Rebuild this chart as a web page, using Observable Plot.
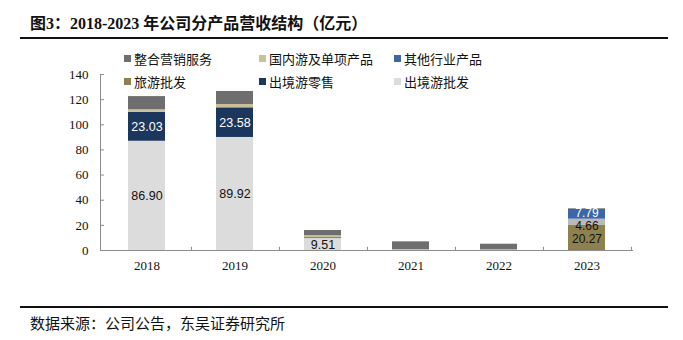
<!DOCTYPE html>
<html>
<head>
<meta charset="utf-8">
<script src="https://cdn.jsdelivr.net/npm/d3@7"></script>
<script src="https://cdn.jsdelivr.net/npm/@observablehq/plot@0.6"></script>
<style>
  html, body { margin: 0; padding: 0; background: #fff; }
  #wrap { position: relative; width: 683px; height: 340px; overflow: hidden; }
  #chart { position: absolute; left: 0; top: 0; }
  .title { position: absolute; left: 30px; top: 10px; font: bold 16px "Liberation Serif", "Noto Sans CJK SC", serif; color: #111; white-space: nowrap; }
  .hline { position: absolute; left: 20px; width: 648px; height: 2px; background: #111; }
  .source { position: absolute; left: 30px; top: 312px; font: 15px "Noto Sans CJK SC", sans-serif; color: #111; white-space: nowrap; }
  .leg { position: absolute; font: 13px "Noto Sans CJK SC", sans-serif; color: #111; white-space: nowrap; display: flex; align-items: center; }
  .leg i { display: inline-block; width: 7px; height: 7px; margin-right: 3px; }
</style>
</head>
<body>
<div id="wrap">
  <div id="chart"></div>
</div>
<script>
// ---- data ----
const years = ["2018", "2019", "2020", "2021", "2022", "2023"];
const seriesNames = ["出境游批发", "出境游零售", "旅游批发", "旅游零售", "其他行业产品", "国内游及单项产品", "整合营销服务"];
const seriesColors = ["#dcdcdc", "#1c375e", "#8d8150", "#b9b9b9", "#3a67a8", "#cbc197", "#6e6e6e"];
const outboundWholesale = [86.90, 89.92, 9.51, 0, 0, 0];
const outboundRetail    = [23.03, 23.58, 0.6, 0, 0, 0];
const travelWholesale   = [0, 0, 0, 0, 0, 20.27];
const travelRetail      = [0, 0, 0, 0, 0, 4.66];
const otherIndustry     = [0, 0, 0, 0, 0, 7.79];
const domesticProducts  = [2.0, 2.6, 1.6, 0.8, 0.6, 0];
const integratedMarketing = [10.5, 10.4, 4.2, 6.1, 4.4, 0.5];
// which values carry a data label
const labelledValues = {
  "出境游批发": ["2018", "2019", "2020"],
  "出境游零售": ["2018", "2019"],
  "旅游批发": ["2023"],
  "旅游零售": ["2023"],
  "其他行业产品": ["2023"]
};
const whiteLabelSeries = ["出境游零售", "其他行业产品"];
const yTicks = [0, 20, 40, 60, 80, 100, 120, 140];
const legendRows = [
  ["整合营销服务", "国内游及单项产品", "其他行业产品"],
  ["旅游批发", "出境游零售", "出境游批发"]
];

const seriesValues = [outboundWholesale, outboundRetail, travelWholesale, travelRetail, otherIndustry, domesticProducts, integratedMarketing];
const rows = [];
seriesNames.forEach((s, si) => {
  years.forEach((y, yi) => {
    const v = seriesValues[si][yi];
    const lab = (labelledValues[s] || []).includes(y) ? v.toFixed(2) : null;
    rows.push({year: y, series: s, value: v, label: lab});
  });
});

// ---- layout ----
const W = 683, H = 340, ML = 100, MR = 50, MT = 74, MB = 90;
const step = (W - ML - MR) / years.length;
const font = '"Liberation Serif", "Times New Roman", serif';
const labelFont = '"Liberation Sans", Arial, sans-serif';

function labels(filterFn, dy, size) {
  return Plot.text(rows, Plot.stackY({
    x: "year", y: "value", z: "series", order: seriesNames,
    text: d => (d.label && filterFn(d)) ? d.label : null,
    fill: d => whiteLabelSeries.includes(d.series) ? "#fff" : "#111",
    fontFamily: labelFont, fontSize: size, dy
  }));
}

const plot = Plot.plot({
  width: W, height: H,
  marginLeft: ML, marginRight: MR, marginTop: MT, marginBottom: MB,
  style: {fontFamily: font, fontSize: "13px", color: "#111", background: "transparent"},
  x: {domain: years, paddingInner: 0.58, paddingOuter: 0.29, label: null},
  y: {domain: [0, 140], label: null},
  color: {domain: seriesNames, range: seriesColors},
  marks: [
    Plot.barY(rows, Plot.stackY({x: "year", y: "value", z: "series", fill: "series", order: seriesNames})),
    labels(d => d.series !== "旅游零售" && d.series !== "其他行业产品" && d.series !== "旅游批发", 0, 12.5),
    labels(d => d.series === "旅游批发", 1, 12),
    labels(d => d.series === "旅游零售", 4, 12),
    labels(d => d.series === "其他行业产品", -1.5, 12),
    Plot.ruleY([0], {stroke: "#8c8c8c"}),
    Plot.frame({anchor: "left", stroke: "#8c8c8c"}),
    Plot.ruleX(years, {x: d => d, y1: 0, y2: 2.6, dx: step / 2, stroke: "#8c8c8c"}),
    Plot.axisY({ticks: yTicks, tickSize: -4, tickPadding: 16, stroke: "#8c8c8c", fontSize: 13}),
    Plot.axisX({tickSize: 0, tickPadding: 10, fontSize: 13})
  ]
});
document.getElementById("chart").appendChild(plot);

// ---- html overlays: title, rules, legend, source ----
const wrap = document.getElementById("wrap");
function add(cls, html, styles) {
  const el = document.createElement("div");
  el.className = cls;
  if (html) el.innerHTML = html;
  Object.assign(el.style, styles || {});
  wrap.appendChild(el);
  return el;
}
add("title", "图3：2018-2023 年公司分产品营收结构（亿元）");
add("hline", "", {top: "37px"});
add("hline", "", {top: "306px"});
add("source", "数据来源：公司公告，东吴证券研究所");
const legX = [124, 259, 394];
const legY = [49, 72];
legendRows.forEach((row, ri) => {
  row.forEach((name, ci) => {
    const color = seriesColors[seriesNames.indexOf(name)];
    add("leg", `<i style="background:${color}"></i>${name}`, {left: legX[ci] + "px", top: legY[ri] + "px"});
  });
});
</script>
</body>
</html>
